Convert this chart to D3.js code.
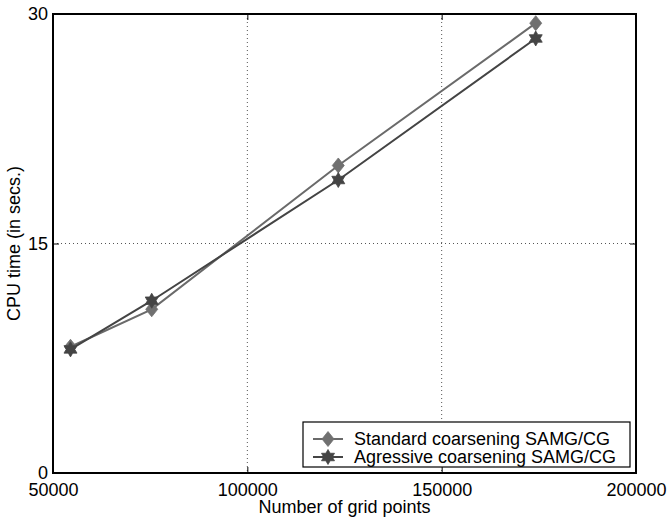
<!DOCTYPE html>
<html><head><meta charset="utf-8">
<script src="https://cdn.jsdelivr.net/npm/d3@7"></script>
<style>
body{margin:0;background:#fff;}
svg{display:block;font-family:"Liberation Sans",Arial,Helvetica,sans-serif;}
</style></head>
<body>
<svg id="chart" width="668" height="519"></svg>
<script>
const gridPoints = [54500, 75400, 123400, 174200];
const standardTimes = [8.25, 10.7, 20.1, 29.4];
const aggressiveTimes = [8.08, 11.26, 19.15, 28.4];
const seriesNames = ["Standard coarsening SAMG/CG", "Agressive coarsening SAMG/CG"];
const xTicks = [50000, 100000, 150000, 200000];
const yTicks = [0, 15, 30];
const xTitle = "Number of grid points";
const yTitle = "CPU time (in secs.)";

const svg = d3.select("#chart");
const L = 53, R = 636, T = 14, B = 473;
const x = d3.scaleLinear().domain([50000, 200000]).range([L, R]);
const y = d3.scaleLinear().domain([0, 30]).range([B, T]);
const fs = 18;

// grid
const g = svg.append("g");
g.selectAll(".gx").data(xTicks.slice(1, -1)).enter().append("line")
  .attr("x1", d => x(d)).attr("x2", d => x(d)).attr("y1", T).attr("y2", B)
  .attr("stroke", "#555").attr("stroke-width", 1).attr("stroke-dasharray", "1,3");
g.selectAll(".gy").data(yTicks.slice(1, -1)).enter().append("line")
  .attr("y1", d => y(d)).attr("y2", d => y(d)).attr("x1", L).attr("x2", R)
  .attr("stroke", "#555").attr("stroke-width", 1).attr("stroke-dasharray", "1,3");

// axes (ticks inside)
const tl = 6;
const axB = d3.axisBottom(x).tickValues(xTicks).tickSizeInner(-tl).tickSizeOuter(0).tickPadding(10).tickFormat(d3.format("d"));
const axT = d3.axisTop(x).tickValues(xTicks).tickSizeInner(-tl).tickSizeOuter(0).tickFormat("");
const axL = d3.axisLeft(y).tickValues(yTicks).tickSizeInner(-tl).tickSizeOuter(0).tickPadding(5).tickFormat(d3.format("d"));
const axR = d3.axisRight(y).tickValues(yTicks).tickSizeInner(-tl).tickSizeOuter(0).tickFormat("");

function style(sel){
  sel.select(".domain").remove();
  sel.selectAll("line").attr("stroke", "#000").attr("stroke-width", 1);
  sel.selectAll("text").attr("font-size", fs).attr("font-family", "Liberation Sans, Arial, sans-serif").attr("fill", "#000");
}
svg.append("g").attr("transform", `translate(0,${B})`).call(axB).call(style);
svg.append("g").attr("transform", `translate(0,${T})`).call(axT).call(style);
svg.append("g").attr("transform", `translate(${L},0)`).call(axL).call(style);
svg.append("g").attr("transform", `translate(${R},0)`).call(axR).call(style);

// box
svg.append("rect").attr("x", L).attr("y", T).attr("width", R - L).attr("height", B - T)
  .attr("fill", "none").attr("stroke", "#000").attr("stroke-width", 2);

// series
const colors = ["#707070", "#444444"];
const lineColors = ["#6a6a6a", "#444444"];
const line = d3.line().x(d => x(d[0])).y(d => y(d[1]));
const data = [standardTimes, aggressiveTimes].map(s => s.map((v, i) => [gridPoints[i], v]));

function diamondPath(w, h){
  return `M0,${-h}L${w},0L0,${h}L${-w},0Z`;
}
function hexPath(Ro){
  const ri = Ro / Math.sqrt(3);
  let p = "";
  for (let k = 0; k < 12; k++){
    const a = -Math.PI / 2 + k * Math.PI / 6;
    const r = k % 2 === 0 ? Ro : ri;
    p += (k === 0 ? "M" : "L") + (r * Math.cos(a)).toFixed(2) + "," + (r * Math.sin(a)).toFixed(2);
  }
  return p + "Z";
}
const markers = [diamondPath(6, 7.5), hexPath(7.5)];

data.forEach((s, i) => {
  svg.append("path").datum(s).attr("d", line).attr("fill", "none")
    .attr("stroke", lineColors[i]).attr("stroke-width", 2);
});
data.forEach((s, i) => {
  svg.selectAll(".m" + i).data(s).enter().append("path")
    .attr("transform", d => `translate(${x(d[0])},${y(d[1])})`)
    .attr("d", markers[i]).attr("fill", colors[i]).attr("stroke", colors[i]).attr("stroke-width", 0.8);
});

// legend
const lg = svg.append("g");
lg.append("rect").attr("x", 303).attr("y", 422).attr("width", 327).attr("height", 45)
  .attr("fill", "#fff").attr("stroke", "#000").attr("stroke-width", 1.2);
seriesNames.forEach((n, i) => {
  const cy = 439 + i * 18;
  lg.append("line").attr("x1", 313).attr("x2", 343).attr("y1", cy).attr("y2", cy)
    .attr("stroke", lineColors[i]).attr("stroke-width", 2);
  lg.append("path").attr("transform", `translate(328,${cy})`).attr("d", markers[i])
    .attr("fill", colors[i]).attr("stroke", colors[i]).attr("stroke-width", 0.8);
  lg.append("text").attr("x", 354).attr("y", cy).attr("dy", "0.35em")
    .attr("font-size", fs).text(n);
});

// titles
svg.append("text").attr("x", (L + R) / 2).attr("y", 513).attr("text-anchor", "middle")
  .attr("font-size", fs).text(xTitle);
svg.append("text").attr("transform", `translate(20,${(T + B) / 2}) rotate(-90)`)
  .attr("text-anchor", "middle").attr("font-size", fs).text(yTitle);
</script>
</body></html>
